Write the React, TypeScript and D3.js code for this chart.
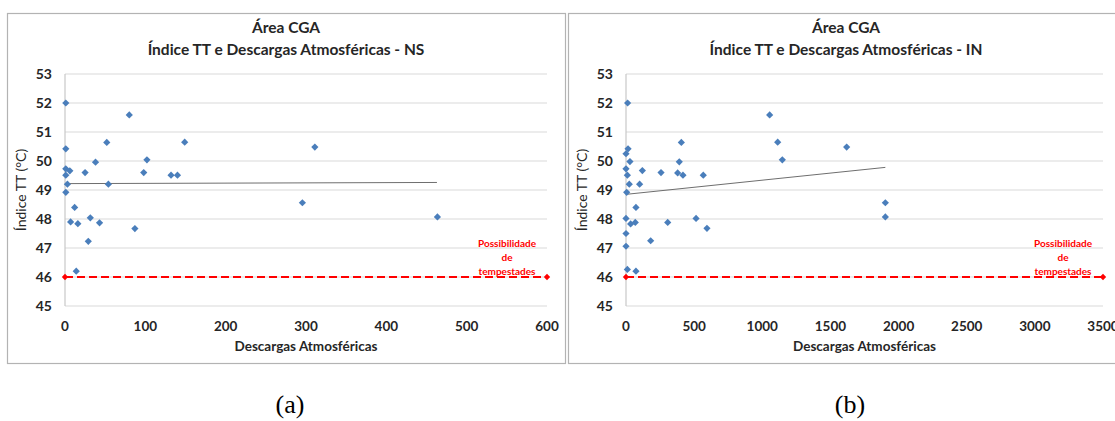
import React from "react";
import * as d3 from "d3";

// ---------- data ----------
const yTicks = [45, 46, 47, 48, 49, 50, 51, 52, 53];
const xTicksNS = [0, 100, 200, 300, 400, 500, 600];
const xTicksIN = [0, 500, 1000, 1500, 2000, 2500, 3000, 3500];

const descargasNS = [1, 1, 1, 6, 1, 3, 1, 12, 7, 16, 29, 14, 25, 31.5, 38, 43, 52, 54, 80, 87, 98, 102, 132, 140, 149, 311, 295.5, 463.6];
const indiceNS = [52.0, 50.42, 49.73, 49.66, 49.51, 49.2, 48.92, 48.4, 47.9, 47.84, 47.23, 46.2, 49.6, 48.04, 49.96, 47.87, 50.64, 49.2, 51.59, 47.67, 49.6, 50.04, 49.51, 49.51, 50.65, 50.48, 48.56, 48.07];

const descargasIN = [12, 15, 0, 29, 0, 120, 10, 24, 100, 5, 73, 0, 34, 68, 0, 0, 181, 10, 73, 257, 306, 379, 391, 406, 418, 514, 567, 594, 1054, 1113, 1147, 1619, 1903, 1903];
const indiceIN = [52.0, 50.42, 50.25, 49.98, 49.73, 49.67, 49.51, 49.2, 49.2, 48.92, 48.4, 48.02, 47.83, 47.88, 47.5, 47.06, 47.25, 46.26, 46.2, 49.6, 47.88, 49.59, 49.97, 50.64, 49.51, 48.02, 49.51, 47.68, 51.59, 50.65, 50.04, 50.48, 48.56, 48.07];

const trendNSx = [0, 463];
const trendNSy = [49.22, 49.26];
const trendINx = [0, 1903];
const trendINy = [48.85, 49.78];

const threshold = 46;
const thresholdLabel = ["Possibilidade", "de", "tempestades"];
const titleLine1 = "Área CGA";
const titlesNS = "Índice TT e Descargas Atmosféricas - NS";
const titlesIN = "Índice TT e Descargas Atmosféricas - IN";
const xAxisTitle = "Descargas Atmosféricas";
const yAxisTitle = "Índice TT (°C)";

// ---------- styling ----------
const FONT = "Lato, 'Open Sans', sans-serif";
const BLUE = "#4a7ebb";
const RED = "#ff0000";
const GRID = "#d9d9d9";
const INK = "#262626";

const diamondType = {
  draw(ctx: any, size: number) {
    const r = Math.sqrt(size / 2);
    ctx.moveTo(0, -r);
    ctx.lineTo(r, 0);
    ctx.lineTo(0, r);
    ctx.lineTo(-r, 0);
    ctx.closePath();
  },
};
const diamond = d3.symbol(diamondType as any, 26)() as string;
const diamondSmall = d3.symbol(diamondType as any, 20)() as string;

type PanelProps = {
  boxX: number;
  boxW: number;
  plotLeft: number;
  plotRight: number;
  xTicks: number[];
  xs: number[];
  ys: number[];
  trendX: number[];
  trendY: number[];
  subtitle: string;
  caption: string;
};

function Panel(p: PanelProps) {
  const top = 74;
  const bottom = 306;
  const xMax = p.xTicks[p.xTicks.length - 1];
  const x = d3.scaleLinear().domain([0, xMax]).range([p.plotLeft, p.plotRight]);
  const y = d3.scaleLinear().domain([45, 53]).range([bottom, top]);
  const titleCx = p.boxX + p.boxW / 2;
  const plotCx = (p.plotLeft + p.plotRight) / 2;
  const trendLine = d3
    .line<number>()
    .x((_, i) => x(p.trendX[i]))
    .y((d) => y(d));
  const labelCx = p.plotRight - 40;
  return (
    <g>
      <rect x={p.boxX + 0.5} y={13.5} width={p.boxW} height={350} fill="#fff" stroke="#b3b3b3" strokeWidth={1.2} />
      <text x={titleCx} y={33} textAnchor="middle" fontFamily={FONT} fontWeight="bold" fontSize={15.5} fill={INK}>
        {titleLine1}
      </text>
      <text x={titleCx} y={55} textAnchor="middle" fontFamily={FONT} fontWeight="bold" fontSize={15.5} fill={INK}>
        {p.subtitle}
      </text>
      {yTicks.map((t) => (
        <g key={t}>
          <line x1={p.plotLeft} x2={p.plotRight} y1={y(t)} y2={y(t)} stroke={GRID} strokeWidth={1.2} />
          <text x={p.plotLeft - 13} y={y(t) + 5} textAnchor="end" fontFamily={FONT} fontWeight="bold" fontSize={14} fill={INK}>
            {t}
          </text>
        </g>
      ))}
      <line x1={p.plotLeft} x2={p.plotLeft} y1={top} y2={bottom} stroke="#c8c8c8" strokeWidth={1.2} />
      {p.xTicks.map((t) => (
        <text key={t} x={x(t)} y={331} textAnchor="middle" fontFamily={FONT} fontWeight="bold" fontSize={13.5} fill={INK}>
          {t}
        </text>
      ))}
      <text x={plotCx} y={351} textAnchor="middle" fontFamily={FONT} fontWeight="bold" fontSize={13.5} fill={INK}>
        {xAxisTitle}
      </text>
      <text
        transform={`translate(${p.plotLeft - 39},${(top + bottom) / 2}) rotate(-90)`}
        textAnchor="middle"
        fontFamily={FONT}
        fontSize={14}
        fill={INK}
      >
        {yAxisTitle}
      </text>
      {/* threshold */}
      <line
        x1={x(0)}
        x2={x(xMax)}
        y1={y(threshold)}
        y2={y(threshold)}
        stroke={RED}
        strokeWidth={2}
        strokeDasharray="8,4"
      />
      <path d={diamondSmall} transform={`translate(${x(0)},${y(threshold)})`} fill={RED} />
      <path d={diamondSmall} transform={`translate(${x(xMax)},${y(threshold)})`} fill={RED} />
      {thresholdLabel.map((s, i) => (
        <text key={s} x={labelCx} y={y(threshold) - 30.5 + i * 14} textAnchor="middle" fontFamily={FONT} fontWeight="bold" fontSize={10} fill={RED}>
          {s}
        </text>
      ))}
      {/* trend */}
      <path d={trendLine(p.trendY) as string} fill="none" stroke="#6e6e6e" strokeWidth={1} />
      {/* points */}
      {p.xs.map((v, i) => (
        <path key={i} d={diamond} transform={`translate(${x(v)},${y(p.ys[i])})`} fill={BLUE} />
      ))}
      <text x={titleCx + 4} y={413} textAnchor="middle" fontFamily="'Liberation Serif', 'Times New Roman', serif" fontSize={26} fill="#000">
        {p.caption}
      </text>
    </g>
  );
}

export default function App() {
  return (
    <svg width={1115} height={421} style={{ position: "absolute", left: 0, top: 0, background: "#fff" }}>
      <rect x={0} y={0} width={1115} height={421} fill="#fff" />
      <Panel
        boxX={7}
        boxW={558}
        plotLeft={65}
        plotRight={547}
        xTicks={xTicksNS}
        xs={descargasNS}
        ys={indiceNS}
        trendX={trendNSx}
        trendY={trendNSy}
        subtitle={titlesNS}
        caption="(a)"
      />
      <Panel
        boxX={568}
        boxW={556}
        plotLeft={626}
        plotRight={1103}
        xTicks={xTicksIN}
        xs={descargasIN}
        ys={indiceIN}
        trendX={trendINx}
        trendY={trendINy}
        subtitle={titlesIN}
        caption="(b)"
      />
    </svg>
  );
}
